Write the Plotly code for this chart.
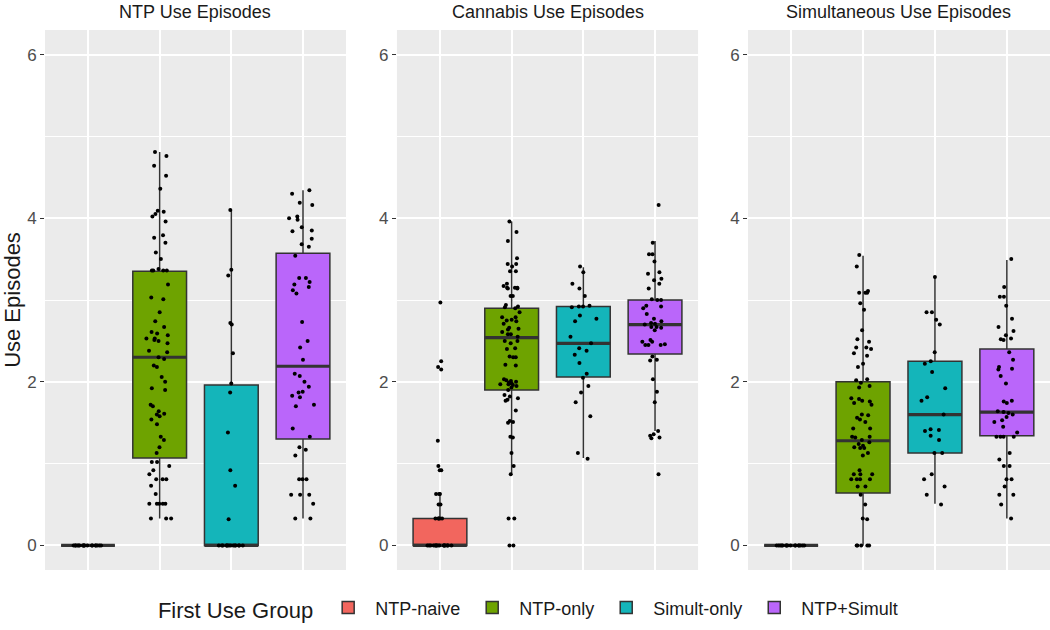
import plotly.graph_objects as go

groups = ["NTP-naive", "NTP-only", "Simult-only", "NTP+Simult"]
colors = ["#F2665E", "#6EA300", "#14B5BA", "#BA66FA"]
panel_titles = ["NTP Use Episodes", "Cannabis Use Episodes", "Simultaneous Use Episodes"]

# box statistics, one value per group (NTP-naive, NTP-only, Simult-only, NTP+Simult)
ntp_q1 = [0, 1.07, 0, 1.30]
ntp_med = [0, 2.30, 0, 2.19]
ntp_q3 = [0, 3.35, 1.96, 3.57]
ntp_lo = [0, 0.33, 0, 0.33]
ntp_hi = [0, 4.81, 4.10, 4.34]

can_q1 = [0, 1.90, 2.06, 2.34]
can_med = [0, 2.54, 2.47, 2.70]
can_q3 = [0.33, 2.90, 2.92, 3.00]
can_lo = [0, 0.88, 1.07, 1.40]
can_hi = [0.62, 3.96, 3.40, 3.72]

sim_q1 = [0, 0.64, 1.13, 1.34]
sim_med = [0, 1.28, 1.60, 1.63]
sim_q3 = [0, 2.00, 2.25, 2.40]
sim_lo = [0, 0, 0.51, 0.33]
sim_hi = [0, 3.54, 3.28, 3.49]

# individual observations (jittered points)
naive_ntp = [0, 0, 0, 0, 0, 0, 0, 0, 0, 0, 0, 0, 0, 0, 0, 0, 0, 0]
only_ntp = [4.81, 4.76, 4.64, 4.52, 4.36, 4.09, 4.08, 4.05, 4.02, 3.96, 3.79, 3.76, 3.70, 3.58,
            3.50, 3.38, 3.36, 3.36, 3.36, 3.36, 3.19, 3.03, 3.01, 2.85, 2.74, 2.67, 2.61, 2.59,
            2.57, 2.53, 2.53, 2.51, 2.50, 2.47, 2.38, 2.36, 2.30, 2.28, 2.20, 2.18, 2.06, 2.00,
            1.92, 1.90, 1.72, 1.70, 1.64, 1.61, 1.60, 1.58, 1.54, 1.48, 1.33, 1.29, 1.20, 1.13,
            1.02, 1.02, 0.97, 0.92, 0.87, 0.81, 0.81, 0.81, 0.73, 0.63, 0.51, 0.51, 0.51, 0.51,
            0.51, 0.33, 0.33, 0.33]
simult_ntp = [4.10, 3.37, 3.30, 2.72, 2.70, 2.35, 1.98, 1.87, 1.38, 0.92, 0.73, 0.32,
              0, 0, 0, 0, 0, 0, 0, 0, 0, 0, 0, 0, 0, 0]
both_ntp = [4.34, 4.30, 4.19, 4.16, 4.02, 4.00, 3.98, 3.89, 3.85, 3.84, 3.75, 3.68, 3.65, 3.54,
            3.27, 3.27, 3.22, 3.19, 3.16, 3.12, 3.08, 2.73, 2.50, 2.42, 2.27, 2.10, 2.07, 2.00,
            1.94, 1.88, 1.87, 1.83, 1.81, 1.72, 1.70, 1.43, 1.33, 1.20, 1.17, 1.10, 0.81, 0.81,
            0.81, 0.62, 0.62, 0.62, 0.51, 0.33, 0.33]

naive_can = [2.97, 2.25, 2.18, 2.15, 1.28, 0.97, 0.92, 0.92, 0.63, 0.63, 0.63, 0.50, 0.50,
             0.33, 0.33, 0.33, 0.33, 0.33, 0, 0, 0, 0, 0, 0, 0, 0, 0, 0, 0, 0, 0, 0, 0, 0]
only_can = [3.96, 3.83, 3.72, 3.51, 3.44, 3.44, 3.41, 3.35, 3.35, 3.20, 3.17, 3.15, 3.15, 3.15,
            3.14, 3.14, 3.05, 3.05, 2.94, 2.92, 2.91, 2.90, 2.85, 2.79, 2.79, 2.76, 2.75, 2.74,
            2.71, 2.66, 2.65, 2.64, 2.61, 2.58, 2.58, 2.55, 2.50, 2.50, 2.47, 2.41, 2.40, 2.31,
            2.30, 2.30, 2.21, 2.20, 2.03, 2.02, 2.01, 2.00, 1.99, 1.97, 1.90, 1.98, 1.97, 1.96,
            1.95, 1.93, 1.84, 1.82, 1.80, 1.78, 1.77, 1.65, 1.52, 1.51, 1.50, 1.33, 1.32, 1.13,
            0.97, 0.87, 0.33, 0.33, 0, 0]
simult_can = [3.41, 3.34, 3.20, 3.14, 3.05, 2.93, 2.92, 2.92, 2.91, 2.81, 2.77, 2.74, 2.55,
              2.47, 2.41, 2.38, 2.33, 2.23, 2.10, 2.05, 1.95, 1.87, 1.75, 1.58, 1.13, 1.06]
both_can = [4.16, 3.70, 3.56, 3.56, 3.47, 3.34, 3.32, 3.26, 3.24, 3.20, 3.14, 3.00, 3.00, 3.01,
            2.92, 2.93, 2.90, 2.83, 2.77, 2.74, 2.72, 2.71, 2.70, 2.67, 2.66, 2.67, 2.63, 2.51,
            2.49, 2.49, 2.45, 2.45, 2.45, 2.46, 2.31, 2.27, 2.26, 2.03, 1.88, 1.75, 1.40, 1.36,
            1.34, 1.32, 1.31, 0.87]

naive_sim = [0, 0, 0, 0, 0, 0, 0, 0, 0, 0, 0, 0, 0, 0, 0, 0]
only_sim = [3.55, 3.41, 3.11, 3.09, 3.09, 3.09, 2.96, 2.88, 2.63, 2.52, 2.49, 2.42, 2.42, 2.40,
            2.35, 2.32, 2.22, 2.18, 2.03, 2.02, 1.93, 1.95, 1.99, 1.77, 1.72, 1.74, 1.80, 1.79,
            1.76, 1.59, 1.60, 1.56, 1.54, 1.51, 1.43, 1.43, 1.33, 1.33, 1.32, 1.29, 1.26, 1.24,
            1.22, 1.19, 1.20, 1.19, 1.13, 1.10, 0.92, 0.87, 0.81, 0.81, 0.81, 0.87, 0.87, 0.81,
            0.72, 0.72, 0.62, 0.50, 0.33, 0.32, 0, 0, 0, 0, 0]
simult_sim = [3.28, 2.85, 2.85, 2.76, 2.70, 2.36, 2.25, 2.22, 2.12, 1.92, 1.81, 1.77, 1.60,
              1.42, 1.41, 1.40, 1.34, 1.29, 1.13, 1.13, 0.87, 0.81, 0.72, 0.62, 0.50]
both_sim = [3.50, 3.16, 3.04, 3.04, 2.93, 2.77, 2.67, 2.62, 2.57, 2.53, 2.52, 2.51, 2.36, 2.27,
            2.18, 2.16, 2.15, 2.07, 1.98, 1.76, 1.77, 1.74, 1.64, 1.57, 1.60, 1.63, 1.62, 1.53,
            1.51, 1.45, 1.38, 1.33, 1.33, 1.33, 1.33, 1.13, 1.05, 0.97, 0.97, 0.81, 0.81, 0.72,
            0.62, 0.62, 0.50, 0.33]

panels = [
    (ntp_q1, ntp_med, ntp_q3, ntp_lo, ntp_hi, [naive_ntp, only_ntp, simult_ntp, both_ntp]),
    (can_q1, can_med, can_q3, can_lo, can_hi, [naive_can, only_can, simult_can, both_can]),
    (sim_q1, sim_med, sim_q3, sim_lo, sim_hi, [naive_sim, only_sim, simult_sim, both_sim]),
]

FONT = "Liberation Sans, Arial, Helvetica, sans-serif"
CLEAR = "rgba(0,0,0,0)"
EDGE = "#333333"

fig = go.Figure()
for p, (q1, med, q3, lo, hi, points) in enumerate(panels):
    suffix = "" if p == 0 else str(p + 1)
    xa, ya = "x" + suffix, "y" + suffix
    for g, group in enumerate(groups):
        fig.add_trace(go.Box(
            x=[group], q1=[q1[g]], median=[med[g]], q3=[q3[g]],
            lowerfence=[lo[g]], upperfence=[hi[g]],
            name=group, legendgroup=group, showlegend=(p == 0),
            fillcolor=colors[g], line=dict(color=EDGE, width=1.5),
            whiskerwidth=0, width=0.75, boxpoints=False, hoverinfo="skip",
            xaxis=xa, yaxis=ya,
        ))
        # thicker median bar, as in ggplot
        fig.add_trace(go.Box(
            x=[group], q1=[med[g]], median=[med[g]], q3=[med[g]],
            lowerfence=[med[g]], upperfence=[med[g]],
            showlegend=False, fillcolor=CLEAR, line=dict(color=EDGE, width=3.2),
            whiskerwidth=0, width=0.75, boxpoints=False, hoverinfo="skip",
            xaxis=xa, yaxis=ya,
        ))
    for g, group in enumerate(groups):
        pts = points[g]
        fig.add_trace(go.Box(
            x=[group] * len(pts), y=pts,
            showlegend=False, boxpoints="all", jitter=0.55, pointpos=0, width=0.75,
            fillcolor=CLEAR, line=dict(color=CLEAR, width=0),
            marker=dict(color="black", size=4),
            hoverinfo="y", xaxis=xa, yaxis=ya,
        ))

domains = [[0, 0.2995], [0.3502, 0.6498], [0.6995, 1.0]]
layout = dict(
    width=1050, height=630,
    paper_bgcolor="white", plot_bgcolor="#EBEBEB",
    margin=dict(l=45, r=0, t=30, b=60, autoexpand=False),
    boxmode="overlay",
    font=dict(family=FONT, color="#1A1A1A"),
    legend=dict(
        orientation="h", x=0.482, xanchor="center", y=-0.072, yanchor="middle",
        title=dict(text="First Use Group", font=dict(size=22, color="#1A1A1A"), side="left"),
        font=dict(size=18, color="#1A1A1A"), bgcolor=CLEAR, itemwidth=44,
    ),
)
annotations = []
for p in range(3):
    suffix = "" if p == 0 else str(p + 1)
    layout["xaxis" + suffix] = dict(
        domain=domains[p], anchor="y" + suffix, type="category",
        categoryorder="array", categoryarray=groups, range=[-0.6, 3.6],
        showticklabels=False, ticks="", showgrid=True, gridcolor="white", gridwidth=1.8,
        zeroline=False, showline=False, fixedrange=True, automargin=False,
    )
    layout["yaxis" + suffix] = dict(
        anchor="x" + suffix, range=[-0.3, 6.3], tickvals=[0, 2, 4, 6],
        ticks="outside", ticklen=4, tickwidth=1.2, tickcolor=EDGE,
        tickfont=dict(size=17, color="#4D4D4D"),
        showgrid=True, gridcolor="white", gridwidth=1.8, zeroline=False, showline=False,
        minor=dict(dtick=1, tick0=0, showgrid=True, gridcolor="white", gridwidth=0.9, ticks=""),
        fixedrange=True, automargin=False,
    )
    annotations.append(dict(
        text=panel_titles[p], xref="x" + suffix + " domain", yref="paper",
        x=0.5, y=1, xanchor="center", yanchor="bottom", yshift=6, showarrow=False,
        font=dict(size=18, color="#1A1A1A"),
    ))
layout["yaxis"]["title"] = dict(text="Use Episodes", font=dict(size=22, color="#1A1A1A"), standoff=12)
layout["annotations"] = annotations

fig.update_layout(**layout)
# drop the default page margin so the figure sits at the window's corner
fig.write_html("out.html", config={"displayModeBar": False},
               post_script="document.body.style.margin = '0px';")
